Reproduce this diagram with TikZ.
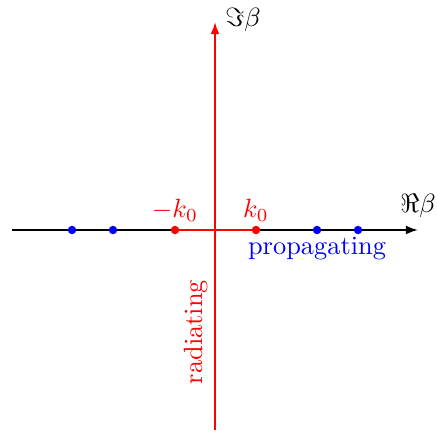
\documentclass[tikz,border=0pt]{standalone}
\usetikzlibrary{arrows.meta}
\begin{document}
\begin{tikzpicture}[x=0.379pt,y=-0.379pt,
  axis/.style={line width=0.75pt,-{Latex[length=4.6pt,width=3.4pt]}},
  dot/.style={circle,fill=#1,inner sep=0pt,minimum size=3.2pt},
  lbl/.style={inner sep=0pt}]
\useasboundingbox (0,0) rectangle (437,430);
\coordinate (xl) at (12,230);
\coordinate (xr) at (418,230);
\coordinate (yb) at (215,430);
\coordinate (yt) at (215,22);
\draw[axis,black] (xl) -- (xr);
\node[dot=red] (mk) at (175,230) {};
\node[dot=red] (pk) at (256,230) {};
\draw[red,line width=0.75pt] (mk.center) -- (pk.center);
\draw[axis,red] (yb) -- (yt);
\node[dot=blue] (b1) at (72,230) {};
\node[dot=blue] (b2) at (113,230) {};
\node[dot=blue] (b3) at (317,230) {};
\node[dot=blue] (b4) at (358,230) {};
\node[lbl] (re) at (418,206) {$\Re\beta$};
\node[lbl] (im) at (243,20) {$\Im\beta$};
\node[lbl,red] (mkl) at (175,210) {$-k_0$};
\node[lbl,red] (pkl) at (256,210) {$k_0$};
\node[lbl,blue] (prop) at (317,249) {propagating};
\node[lbl,red,rotate=90] (rad) at (196,332) {radiating};
\end{tikzpicture}
\end{document}
